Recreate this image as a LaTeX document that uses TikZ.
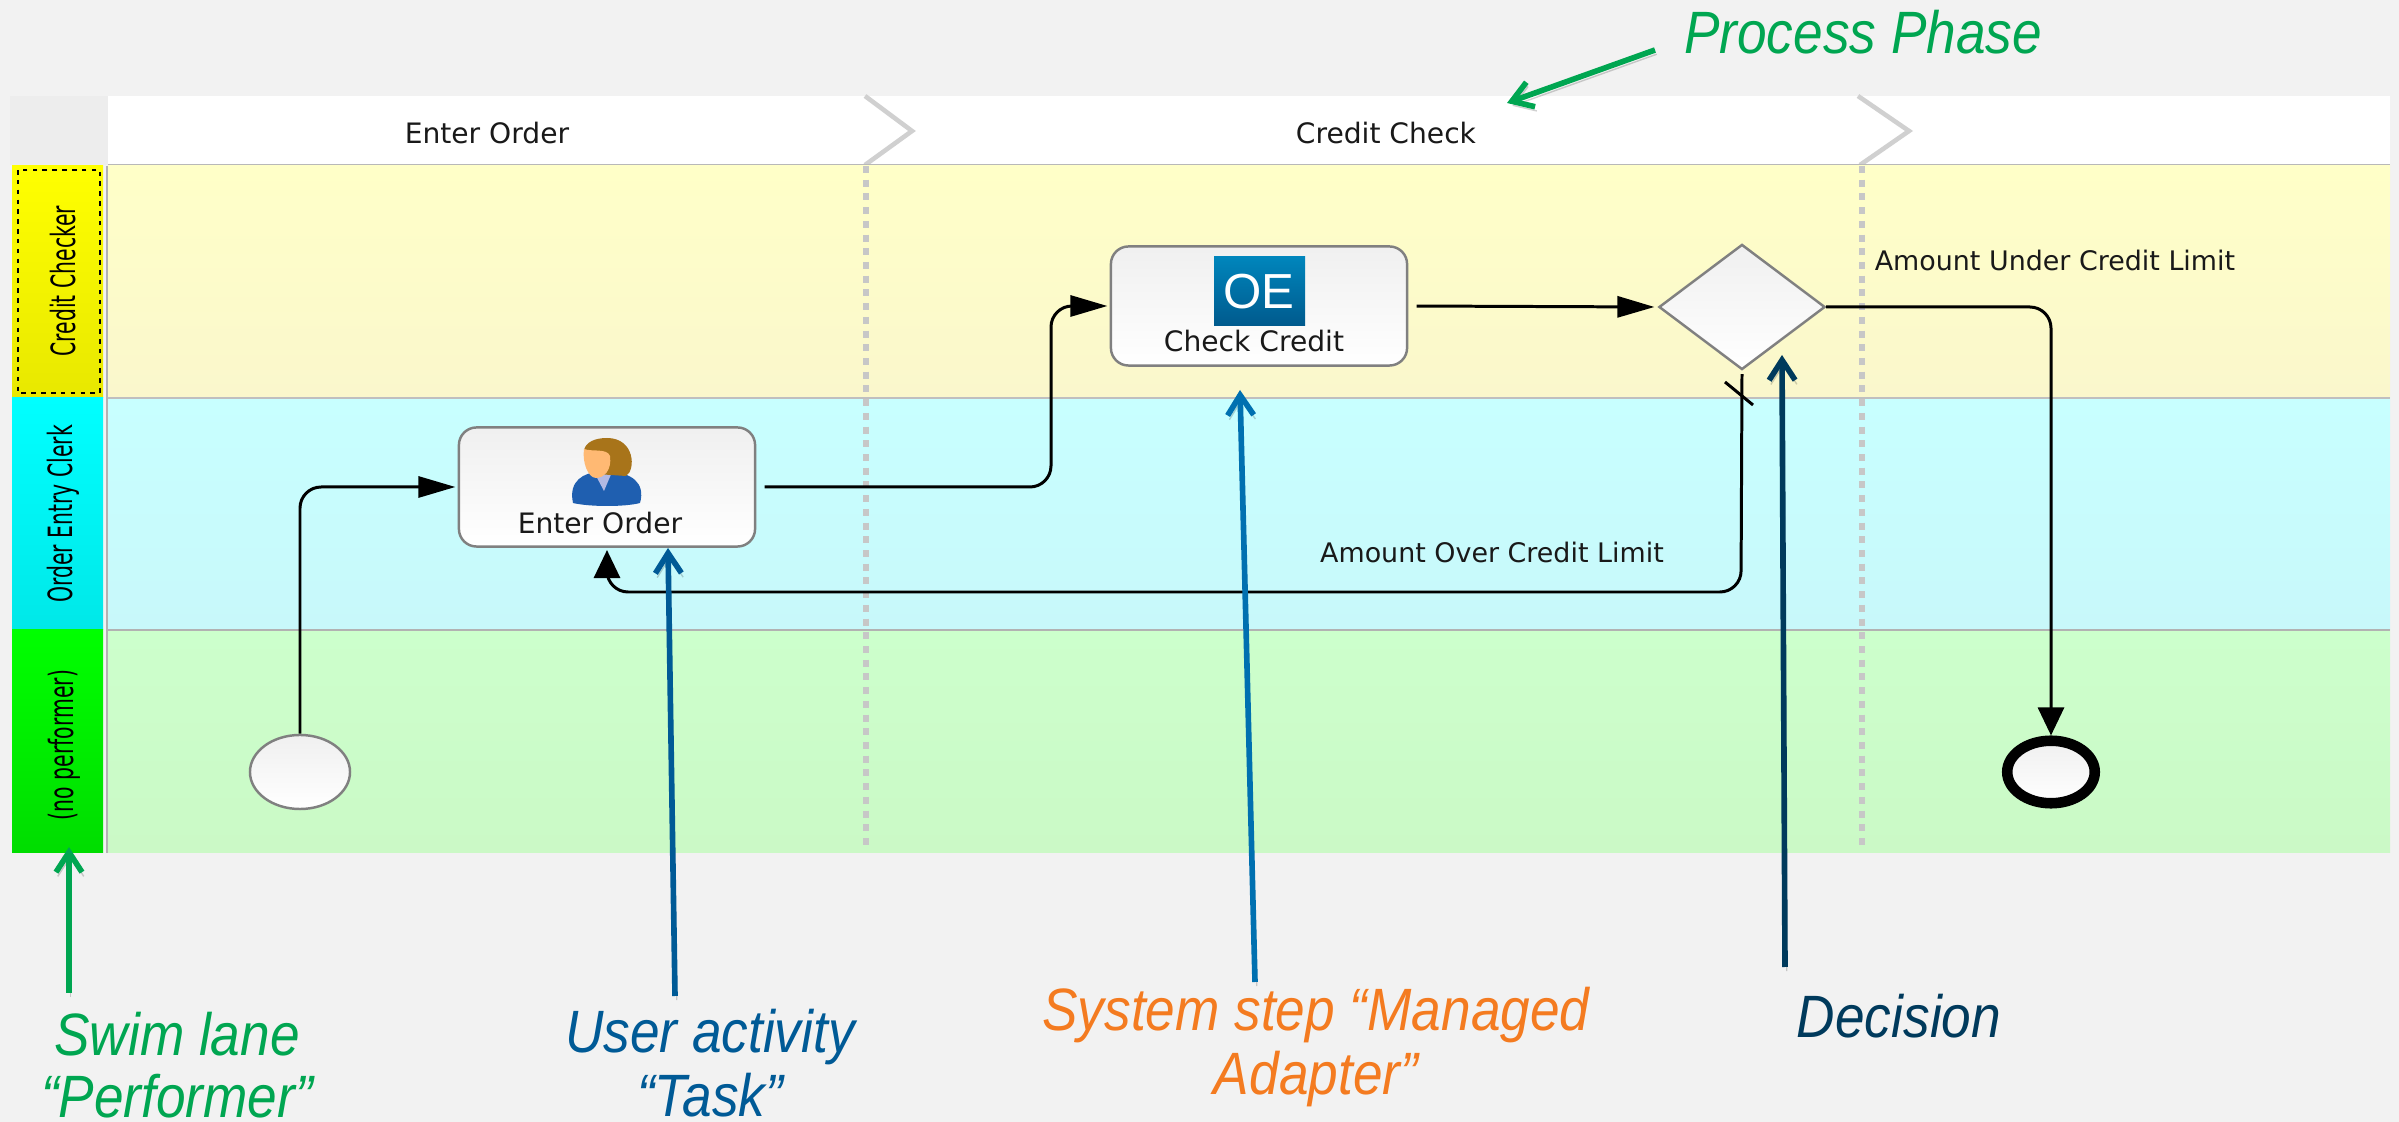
\documentclass[tikz,border=0pt]{standalone}
\usepackage{fontspec}
\setmainfont{Liberation Sans}
\newfontfamily\uifont{DejaVu Sans}
\newfontfamily\barfont[FakeStretch=0.61]{DejaVu Sans}
\newfontfamily\notefont[FakeStretch=0.89]{Liberation Sans}
\usetikzlibrary{arrows.meta,shapes.geometric}
\definecolor{pagebg}{HTML}{F2F2F2}
\definecolor{notegreen}{HTML}{00A651}
\definecolor{noteblue}{HTML}{005A96}
\definecolor{sysblue}{HTML}{0070B0}
\definecolor{decblue}{HTML}{003A5C}
\definecolor{noteorange}{HTML}{F47B20}
\definecolor{framegray}{HTML}{D0D0D0}
\definecolor{bodyblue}{HTML}{1F5FB0}
\definecolor{hairbrown}{HTML}{A8741A}
\tikzset{
    tasknode/.style={draw=gray, line width=0.7pt, rounded corners=5pt, top color=black!6, bottom color=white,
        minimum width=2.96cm, minimum height=1.19cm, inner sep=0pt, outer sep=1pt},
    uitext/.style={font=\uifont\fontsize{8}{10}\selectfont, text=black!90, inner sep=0pt},
    flowtext/.style={font=\uifont\fontsize{7.65}{10}\selectfont, text=black!90, inner sep=0pt},
    bartext/.style={font=\barfont\fontsize{9.5}{10}\selectfont, rotate=90, inner sep=0pt},
    notetext/.style={font=\notefont\itshape\fontsize{17}{17.8}\selectfont, align=center, inner sep=0pt},
    flow/.style={line width=0.85pt, rounded corners=6pt},
    flowh/.style={-{Triangle[length=0.37cm,width=0.21cm]}},
    flowv/.style={-{Triangle[length=0.28cm,width=0.26cm]}},
    notearrow/.style={line width=1.6pt, -{Straight Barb[length=0.2cm,width=0.26cm]},
        preaction={draw=black, opacity=0.18, transform canvas={shift={(0.5pt,-1.2pt)}}}},
    phaseline/.style={framegray, line width=1.3pt},
    laneline/.style={black!22, line width=1.5pt, dash pattern=on 2pt off 1.9pt}
}
\begin{document}
\begin{tikzpicture}[x=0.01cm,y=-0.01cm]
    \useasboundingbox (0,0) rectangle (2399,1122);
    \fill[pagebg] (0,0) rectangle (2399,1122);

    % Header band
    \fill[black!7] (10,96) rectangle (108,165);
    \fill[white] (108,96) rectangle (2390,165);
    \draw[phaseline] (865,96) -- (912,131) -- (865,165);
    \draw[phaseline] (1858,96) -- (1909,131) -- (1860,165);
    \draw[black!28, line width=0.8pt] (108,165.5) -- (2390,165.5);
    \node[uitext] (phaseone) at (487,133) {Enter Order};
    \node[uitext] (phasetwo) at (1386,133) {Credit Check};

    % Lanes
    \shade[top color={rgb,255:red,255;green,255;blue,200}, bottom color={rgb,255:red,250;green,247;blue,204}] (108,166) rectangle (2390,398);
    \shade[top color={rgb,255:red,200;green,255;blue,255}, bottom color={rgb,255:red,200;green,248;blue,250}] (108,398) rectangle (2390,630);
    \shade[top color={rgb,255:red,204;green,255;blue,204}, bottom color={rgb,255:red,203;green,249;blue,198}] (108,630) rectangle (2390,853);
    \draw[black!25, line width=0.6pt] (108,398) -- (2390,398);
    \draw[black!30, line width=0.6pt] (108,630) -- (2390,630);
    \draw[black!30, line width=0.8pt] (107,166) -- (107,853);

    % Performer bars
    \shade[top color=yellow, bottom color={rgb,255:red,232;green,232;blue,0}] (12,166) rectangle (103,398);
    \shade[top color=cyan, bottom color={rgb,255:red,0;green,232;blue,232}] (12,398) rectangle (103,630);
    \shade[top color=green, bottom color={rgb,255:red,0;green,221;blue,0}] (12,630) rectangle (103,853);
    \draw[black, line width=0.7pt, dash pattern=on 1.3pt off 1.5pt] (18,170) rectangle (100,393);
    \node[bartext] (barone) at (63,281) {Credit Checker};
    \node[bartext] (bartwo) at (63,514) {Order Entry Clerk};
    \node[bartext] (barthree) at (64,745) {(no performer)};

    % Phase separators
    \draw[laneline] (866,166) -- (866,848);
    \draw[laneline] (1862,166) -- (1862,848);

    % Shapes
    \node[draw=gray, line width=0.7pt, ellipse, top color=black!6, bottom color=white, minimum width=1cm, minimum height=0.74cm, inner sep=0pt] (start) at (300,772) {};
    \node[tasknode] (enter) at (607,487) {};
    \node[tasknode] (check) at (1259,306) {};
    \node[draw=gray, line width=0.7pt, diamond, top color=black!6, bottom color=white, minimum width=1.68cm, minimum height=1.27cm, inner sep=0pt, outer sep=1pt] (decision) at (1742,307) {};
    \node[draw=black, line width=3pt, ellipse, top color=black!6, bottom color=white, minimum width=0.875cm, minimum height=0.625cm, inner sep=0pt] (finish) at (2051,772) {};
    \node[uitext] (enterlabel) at (600,523) {Enter Order};
    \node[uitext] (checklabel) at (1254,341) {Check Credit};

    % User icon
    \fill[bodyblue] (573,503) .. controls (568,480) and (585,473) .. (597,472) -- (612,472) .. controls (630,473) and (646,482) .. (640,503) .. controls (625,507) and (590,507) .. (573,503);
    \fill[cyan!30!blue!30!white] (594,472) -- (612,472) -- (604,491) -- cycle;
    \fill[hairbrown] (607,438) .. controls (635,438) and (636,470) .. (626,476) -- (596,474) -- (584,450) .. controls (586,442) and (595,438) .. (607,438);
    \fill[orange!55!white] (584,449) .. controls (592,452) and (607,448) .. (610,456) .. controls (612,470) and (604,478) .. (596,478) .. controls (588,478) and (582,462) .. (584,449);

    % OE icon
    \shade[top color=sysblue!85!cyan, bottom color=sysblue!80!black] (1214,257) rectangle (1305,326);
    \node[text=white, font=\fontsize{14}{16}\selectfont, inner sep=0pt] (oe) at (1259,292) {OE};

    % Connectors
    \coordinate (checkup) at (1051,306);
    \coordinate (overturn) at (1741,592);
    \draw[flow,flowh] (start.north) |- (enter.west);
    \draw[flow,flowh,shorten <=1.7pt] (enter.east) -| (checkup) -- (check.west);
    \draw[flow,flowh,shorten <=1.7pt] (check.east) -- (decision.west);
    \draw[flow,flowv] (decision.south) -- (overturn) -| (enter.south);
    \draw[flow,flowv,shorten <=-1pt] (decision.east) -| (finish.north);
    \coordinate (slashtop) at (1725,382);
    \coordinate (slashend) at (1753,405);
    \draw[line width=0.85pt] (slashtop) -- (slashend);
    \node[flowtext] (overlabel) at (1492,552) {Amount Over Credit Limit};
    \node[flowtext] (underlabel) at (2055,260) {Amount Under Credit Limit};

    % Notes
    \node[notetext, text=notegreen] (phasenote) at (1863,32) {Process Phase};
    \node[notetext, text=notegreen] (lanenote) at (177,1065) {Swim lane\\“Performer”};
    \node[notetext, text=noteblue] (usernote) at (710,1063) {User activity\\[0.5pt]“Task”};
    \node[notetext, text=noteorange] (systemnote) at (1316,1047) {System step “Managed\\[0.5pt]Adapter”};
    \node[notetext, text=decblue] (decisionnote) at (1899,1016) {Decision};

    \coordinate (phasefrom) at (1655,50);
    \coordinate (phasetip) at (1507,103);
    \coordinate (lanefrom) at (69,993);
    \coordinate (lanetip) at (69,847);
    \coordinate (userfrom) at (675,996);
    \coordinate (usertip) at (668,548);
    \coordinate (systemfrom) at (1255,982);
    \coordinate (systemtip) at (1240,390);
    \coordinate (decisionfrom) at (1785,967);
    \coordinate (decisiontip) at (1782,355);
    \draw[notearrow, notegreen] (phasefrom) -- (phasetip);
    \draw[notearrow, notegreen] (lanefrom) -- (lanetip);
    \draw[notearrow, noteblue] (userfrom) -- (usertip);
    \draw[notearrow, sysblue] (systemfrom) -- (systemtip);
    \draw[notearrow, decblue] (decisionfrom) -- (decisiontip);
\end{tikzpicture}
\end{document}
